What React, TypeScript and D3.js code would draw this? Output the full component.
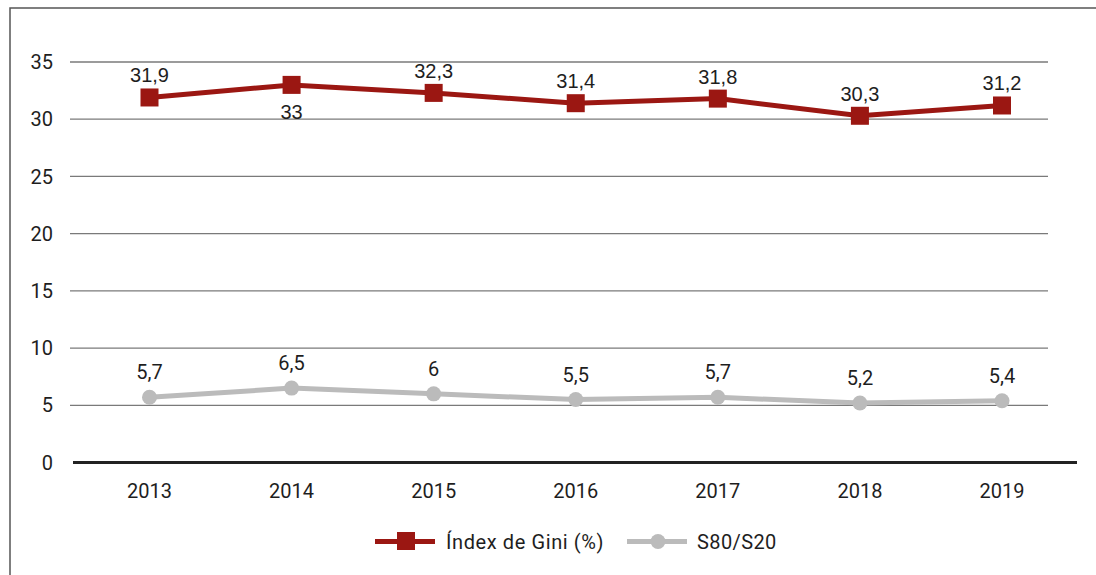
import React from "react";
import * as d3 from "d3";

const years = ["2013", "2014", "2015", "2016", "2017", "2018", "2019"];
const gini = [31.9, 33, 32.3, 31.4, 31.8, 30.3, 31.2];
const s80s20 = [5.7, 6.5, 6, 5.5, 5.7, 5.2, 5.4];
const yTicks = [0, 5, 10, 15, 20, 25, 30, 35];
const giniLabel = "Índex de Gini (%)";
const ratioLabel = "S80/S20";

const RED = "#9b1712";
const GREY = "#bbbbbb";
const FONT = "Roboto, 'DejaVu Sans', sans-serif";
const ARIAL = "'Liberation Sans', Arial, sans-serif";
const INK = "#1e1e1e";

const fmt = (v: number) => String(v).replace(".", ",");

export default function App() {
  const width = 1096;
  const height = 575;

  const x = d3.scalePoint<string>().domain(years).range([149.5, 1002]);
  const y = d3.scaleLinear().domain([0, 35]).range([462.5, 62]);

  const line = d3
    .line<number>()
    .x((_, i) => x(years[i]) as number)
    .y((d) => y(d));

  return (
    <svg
      width={width}
      height={height}
      style={{ position: "absolute", left: 0, top: 0, display: "block" }}
      fontFamily={FONT}
    >
      <rect x={0} y={0} width={width} height={height} fill="#fff" />
      <rect x={10} y={8} width={1200} height={700} fill="none" stroke="#555" strokeWidth={1.5} />

      {/* grid + y labels */}
      {yTicks.map((t) => (
        <g key={t}>
          {t > 0 && (
            <line x1={70} x2={1048} y1={y(t)} y2={y(t)} stroke="#7a7a7a" strokeWidth={1.3} />
          )}
          <text x={53} y={y(t)} dy="0.36em" textAnchor="end" fontSize={20} fill={INK}>
            {t}
          </text>
        </g>
      ))}
      <line x1={73} x2={1077} y1={y(0)} y2={y(0)} stroke="#222" strokeWidth={3} />

      {/* x labels */}
      {years.map((yr) => (
        <text key={yr} x={x(yr)} y={498} textAnchor="middle" fontSize={20} fill={INK}>
          {yr}
        </text>
      ))}

      {/* S80/S20 */}
      <path d={line(s80s20) || ""} fill="none" stroke={GREY} strokeWidth={5} />
      {s80s20.map((v, i) => (
        <g key={"s" + i}>
          <circle cx={x(years[i])} cy={y(v)} r={7.5} fill={GREY} />
          <text x={x(years[i])} y={y(v) - 18} textAnchor="middle" fontSize={20} fill={INK}>
            {fmt(v)}
          </text>
        </g>
      ))}

      {/* Gini */}
      <path d={line(gini) || ""} fill="none" stroke={RED} strokeWidth={5} />
      {gini.map((v, i) => (
        <g key={"g" + i}>
          <rect x={(x(years[i]) as number) - 9} y={y(v) - 9} width={18} height={18} fill={RED} />
          <text
            x={x(years[i])}
            y={i === 1 ? y(v) + 34 : y(v) - 15}
            textAnchor="middle"
            fontSize={20}
            fontFamily={ARIAL}
            fill={INK}
          >
            {fmt(v)}
          </text>
        </g>
      ))}

      {/* legend */}
      <g>
        <line x1={375} x2={435} y1={541.5} y2={541.5} stroke={RED} strokeWidth={5} />
        <rect x={397} y={532} width={18} height={18} fill={RED} />
        <text x={446} y={541.5} dy="0.36em" fontSize={20} letterSpacing={0.6} fill={INK}>
          {giniLabel}
        </text>
        <line x1={627} x2={687} y1={541.5} y2={541.5} stroke={GREY} strokeWidth={5} />
        <circle cx={658} cy={541.5} r={7.5} fill={GREY} />
        <text x={697} y={541.5} dy="0.36em" fontSize={20} letterSpacing={0.4} fill={INK}>
          {ratioLabel}
        </text>
      </g>
    </svg>
  );
}
